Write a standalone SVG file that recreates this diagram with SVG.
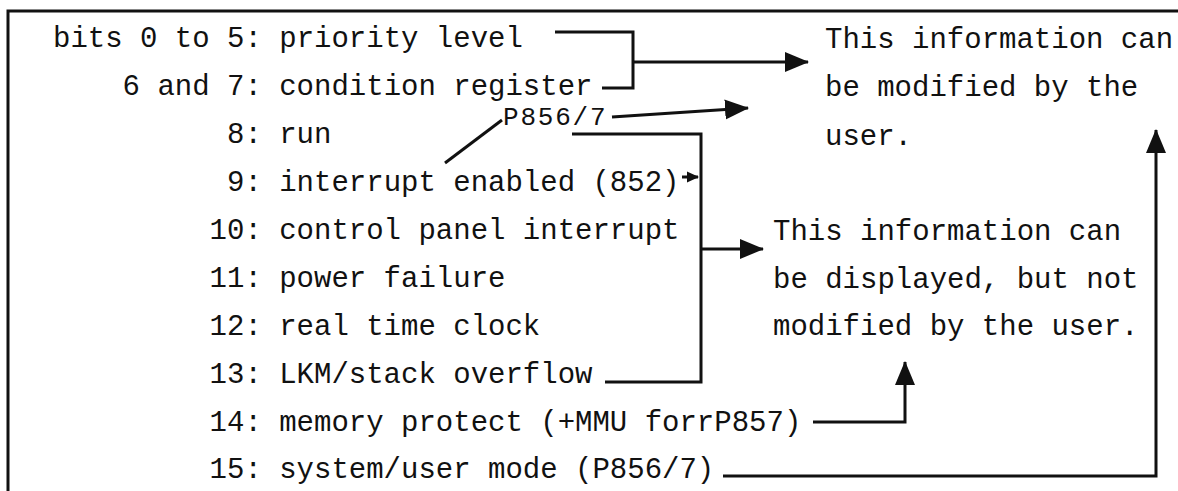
<svg xmlns="http://www.w3.org/2000/svg" width="1178" height="491" viewBox="0 0 1178 491">
<style>
text{font-family:"Liberation Mono","Courier New",monospace;font-size:29px;fill:#111}
.ln{fill:none;stroke:#111;stroke-width:3}
</style>
<defs>
<marker id="ah" markerUnits="userSpaceOnUse" markerWidth="24" markerHeight="22" viewBox="0 0 24 22" refX="23" refY="11" orient="auto">
<path d="M0,1 L24,11 L0,21 Z" fill="#111"/>
</marker>
<marker id="ahs" markerUnits="userSpaceOnUse" markerWidth="12" markerHeight="12" viewBox="0 0 12 12" refX="11" refY="6" orient="auto">
<path d="M0,0.5 L12,6 L0,11.5 Z" fill="#111"/>
</marker>
</defs>
<rect width="1178" height="491" fill="#fff"/>
<g id="frame"><path class="ln" d="M8,491 V11 H1178"/></g>
<g id="bits">
<text x="53" y="47">bits 0 to 5: priority level</text>
<text x="122.6" y="95">6 and 7: condition register</text>
<text x="227" y="143">8: run</text>
<text x="227" y="191">9: interrupt enabled (852)</text>
<text x="209.6" y="239">10: control panel interrupt</text>
<text x="209.6" y="287">11: power failure</text>
<text x="209.6" y="335">12: real time clock</text>
<text x="209.6" y="383">13: LKM/stack overflow</text>
<text x="209.6" y="431">14: memory protect (+MMU forrP857)</text>
<text x="209.6" y="478">15: system/user mode (P856/7)</text>
</g>
<g id="p856"><text x="503" y="125" style="font-size:26px;letter-spacing:1.8px">P856/7</text></g>
<g id="modifiable">
<text x="825" y="48">This information can</text>
<text x="825" y="96">be modified by the</text>
<text x="825" y="145">user.</text>
</g>
<g id="displayonly">
<text x="773" y="240">This information can</text>
<text x="773" y="288">be displayed, but not</text>
<text x="773" y="335">modified by the user.</text>
</g>
<g id="connectors">
<path class="ln" d="M555,32 H633 V88 H602"/>
<path class="ln" d="M633,62 H808" marker-end="url(#ah)"/>
<path class="ln" d="M612,117 L748,108" marker-end="url(#ah)"/>
<path class="ln" d="M445,163 L502,120"/>
<path class="ln" d="M572,134 H701 V382 H605"/>
<path class="ln" d="M701,249 H763" marker-end="url(#ah)"/>
<path class="ln" d="M682,177 H698" marker-end="url(#ahs)"/>
<path class="ln" d="M813,422 H905 V362" marker-end="url(#ah)"/>
<path class="ln" d="M723,476 H1156 V130" marker-end="url(#ah)"/>
</g>
</svg>
